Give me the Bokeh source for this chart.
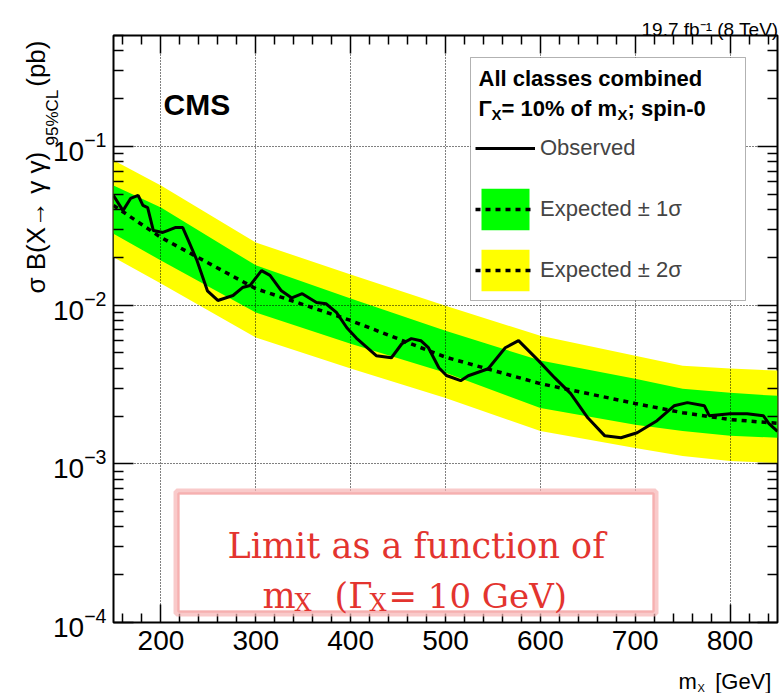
from math import log10, pi

from bokeh.embed import file_html
from bokeh.models import (BoxAnnotation, ColumnDataSource, CustomJSTickFormatter,
                          FixedTicker, Label, Legend, LegendItem, LinearAxis,
                          LogAxis, Range1d)
from bokeh.plotting import figure
from bokeh.resources import INLINE

# ---------------------------------------------------------------------------
# 95% CL upper limits on sigma x B(X -> gamma gamma) in pb, spin-0, width 10%
# ---------------------------------------------------------------------------
mass_points = [150, 200, 300, 400, 500, 600, 700, 750, 800, 850]
expected = [0.0425, 0.0267, 0.0127, 0.0080, 0.0047, 0.0032, 0.0024, 0.0021, 0.0019, 0.0018]
one_sigma_up = [0.0568, 0.0412, 0.0178, 0.0110, 0.0069, 0.00447, 0.00344, 0.00297, 0.0028, 0.00268]
one_sigma_down = [0.0282, 0.0191, 0.00897, 0.00571, 0.00375, 0.00225, 0.00176, 0.00161, 0.0015, 0.00146]
two_sigma_up = [0.0817, 0.0568, 0.0248, 0.0156, 0.0099, 0.0064, 0.0048, 0.00415, 0.00398, 0.00387]
two_sigma_down = [0.0200, 0.0137, 0.00624, 0.00398, 0.0026, 0.00161, 0.00126, 0.00112, 0.00104, 0.00101]

obs_mass = [150, 160, 168, 176, 181, 186, 192, 202, 207, 215,
            223, 229, 238, 249, 260, 276, 286, 294, 306, 315,
            327, 338, 349, 364, 374, 385, 396, 406, 427, 443,
            454, 464, 474, 482, 493, 501, 516, 524, 545, 563,
            577, 598, 615, 632, 650, 668, 685, 702, 723, 741,
            755, 773, 778, 800, 818, 835, 841, 850]
observed = [0.0491, 0.0394, 0.0470, 0.0491, 0.0425, 0.0412, 0.0295, 0.0287, 0.0295, 0.0308,
            0.0308, 0.0255, 0.0191, 0.0123, 0.0107, 0.0115, 0.0129, 0.0133, 0.0165, 0.0154,
            0.0123, 0.0111, 0.0118, 0.0104, 0.0102, 0.0090, 0.0072, 0.0062, 0.0048, 0.00466,
            0.00571, 0.00615, 0.00597, 0.00539, 0.00403, 0.0036, 0.00334, 0.00359, 0.00397, 0.00539,
            0.00597, 0.00447, 0.00349, 0.00277, 0.00195, 0.0015, 0.00146, 0.00157, 0.00187, 0.00232,
            0.00243, 0.00232, 0.00201, 0.00207, 0.00207, 0.00201, 0.00179, 0.0016]

x_major_ticks = [200, 300, 400, 500, 600, 700, 800]
x_minor_ticks = [m for m in range(160, 850, 20) if m not in x_major_ticks]
y_major_ticks = [1e-4, 1e-3, 1e-2, 1e-1]
y_minor_ticks = [k * 10.0 ** e for e in (-4, -3, -2, -1) for k in range(2, 10)]

X_LO, X_HI = 150, 850
Y_LO, Y_HI = 1e-4, 0.5

# page geometry of the plotting frame
FRAME_LEFT, FRAME_TOP, FRAME_W, FRAME_H = 113, 35, 664, 587
FONT = "Liberation Sans"
NBSP = "\u00a0"


def page_x(px):
    return X_LO + (px - FRAME_LEFT) * (X_HI - X_LO) / FRAME_W


def page_y(py):
    span = log10(Y_HI) - log10(Y_LO)
    return 10 ** (log10(Y_HI) - (py - FRAME_TOP) * span / FRAME_H)


p = figure(x_range=Range1d(X_LO, X_HI), y_range=Range1d(Y_LO, Y_HI),
           y_axis_type="log", frame_width=FRAME_W, frame_height=FRAME_H,
           min_border_left=FRAME_LEFT, min_border_right=3,
           min_border_top=FRAME_TOP, min_border_bottom=71,
           output_backend="svg", toolbar_location=None)
p.background_fill_color = "white"
p.border_fill_color = "white"
p.outline_line_color = "black"
p.outline_line_width = 2

band_src = ColumnDataSource(dict(m=mass_points, exp=expected,
                                 g_lo=one_sigma_down, g_hi=one_sigma_up,
                                 y_lo=two_sigma_down, y_hi=two_sigma_up))
yellow_band = p.varea(x="m", y1="y_lo", y2="y_hi", source=band_src,
                      fill_color="#ffff00", fill_alpha=1)
green_band = p.varea(x="m", y1="g_lo", y2="g_hi", source=band_src,
                     fill_color="#00ff00", fill_alpha=1)
exp_line = p.line("m", "exp", source=band_src, line_color="black",
                  line_width=3.5, line_dash="5 5")
obs_line = p.line(obs_mass, observed, line_color="black", line_width=3)

# axes: ROOT-like inward ticks on all four sides
bottom_axis = p.below[0]
left_axis = p.left[0]
blank = CustomJSTickFormatter(code="return ''")
top_axis = LinearAxis(formatter=blank)
right_axis = LogAxis(formatter=blank)
p.add_layout(top_axis, "above")
p.add_layout(right_axis, "right")

for ax in (bottom_axis, top_axis):
    ax.ticker = FixedTicker(ticks=x_major_ticks, minor_ticks=x_minor_ticks)
    ax.major_tick_in, ax.minor_tick_in = 18, 9
for ax in (left_axis, right_axis):
    ax.ticker = FixedTicker(ticks=y_major_ticks, minor_ticks=y_minor_ticks)
    ax.major_tick_in, ax.minor_tick_in = 20, 10
for ax in (bottom_axis, top_axis, left_axis, right_axis):
    ax.major_tick_out = 0
    ax.minor_tick_out = 0
    ax.axis_line_color = None
    ax.major_tick_line_color = "black"
    ax.minor_tick_line_color = "black"
    ax.major_tick_line_width = 1.5
    ax.minor_tick_line_width = 1.5
    ax.major_label_text_font = FONT
    ax.major_label_text_font_size = "28px"
    ax.major_label_text_color = "black"
for ax in (top_axis, right_axis):
    ax.major_label_text_font_size = "1px"
    ax.major_label_standoff = 0
bottom_axis.major_label_standoff = 8
left_axis.major_label_standoff = 7

p.xgrid.ticker = FixedTicker(ticks=x_major_ticks)
p.ygrid.ticker = FixedTicker(ticks=y_major_ticks)
for g in (p.xgrid[0], p.ygrid[0]):
    g.grid_line_color = "black"
    g.grid_line_dash = "1 2"
    g.grid_line_width = 1
    g.level = "guide"

# legend box with two header lines
p.add_layout(BoxAnnotation(left=page_x(470), right=page_x(745),
                           top=page_y(57), bottom=page_y(300),
                           fill_color="white", fill_alpha=1,
                           line_color="black", line_width=1))
legend = Legend(items=[
    LegendItem(label="Observed", renderers=[obs_line]),
    LegendItem(label="Expected ± 1σ", renderers=[green_band, exp_line]),
    LegendItem(label="Expected ± 2σ", renderers=[yellow_band, exp_line]),
], location=(362, 326), padding=0, margin=0, spacing=9,
    glyph_width=60, glyph_height=52, label_standoff=5,
    label_text_font=FONT, label_text_font_size="22px",
    border_line_color=None, background_fill_alpha=0)
p.add_layout(legend)


def text(px, py, s, size, bold=False, color="black", font=FONT, angle=0,
         align="left", place="center"):
    # texts outside the frame live in a side panel so they are not clipped
    p.add_layout(Label(x=page_x(px), y=page_y(py), text=s, angle=angle,
                       text_font=font, text_font_size=f"{size}px",
                       text_font_style="bold" if bold else "normal",
                       text_color=color, text_align=align,
                       text_baseline="alphabetic"), place)


text(478, 78, "All classes combined", 22, bold=True)
text(478, 108, "Γ", 22, bold=True)
text(491, 114, "X", 15, bold=True)
text(501, 108, "= 10% of m", 22, bold=True)
text(617, 114, "X", 15, bold=True)
text(627, 108, "; spin-0", 22, bold=True)

text(163, 104, "CMS", 30, bold=True)

# luminosity / energy header
text(778, 29, "19.7 fb⁻¹ (8 TeV)", 19, align="right", place="above")

# x-axis title: m_X [GeV]
text(678, 681, "m" + NBSP * 3 + "[GeV]", 22, place="below")
text(697, 687, "X", 11, place="above")

# y-axis title: sigma B(X -> gamma gamma)_95%CL (pb)
text(35, 293, "σ B(X→ γ γ)" + NBSP * 9 + "(pb)", 26, angle=pi / 2, place="left")
text(52, 145, "95%CL", 17, angle=pi / 2, place="left")

# boxed note
p.add_layout(BoxAnnotation(left=page_x(176), right=page_x(655),
                           top=page_y(491), bottom=page_y(613),
                           fill_color="white", fill_alpha=1,
                           line_color="#f7b4b4", line_width=6, line_alpha=0.7))
p.add_layout(BoxAnnotation(left=page_x(178), right=page_x(653),
                           top=page_y(493), bottom=page_y(611),
                           fill_alpha=0, line_color="#ee7373", line_width=2.5))
RED = "#e3342f"
SERIF = "DejaVu Serif"
text(227, 545, "Limit as a function of", 35, color=RED, font=SERIF)
text(262, 595, "m", 35, color=RED, font=SERIF)
text(294, 602, "X", 24, color=RED, font=SERIF)
text(334, 595, "(Γ", 35, color=RED, font=SERIF)
text(369, 602, "X", 24, color=RED, font=SERIF)
text(388, 595, "= 10 GeV)", 34, color=RED, font=SERIF)

open("out.html", "w").write(file_html(p, INLINE))
